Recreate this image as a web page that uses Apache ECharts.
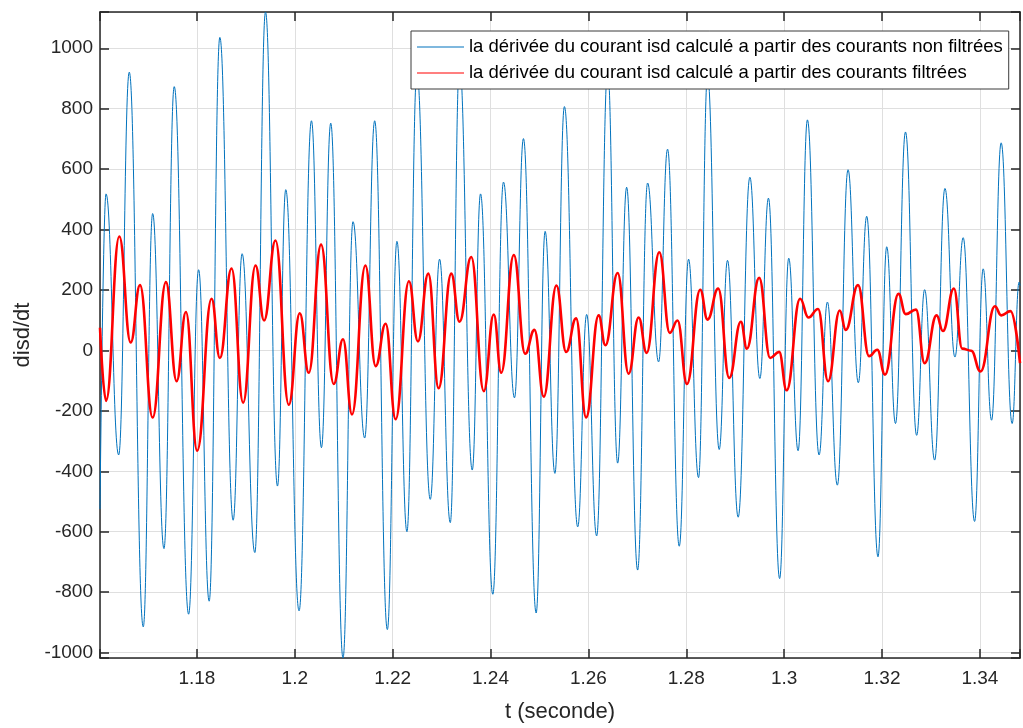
<!DOCTYPE html>
<html>
<head>
<meta charset="utf-8">
<script src="https://cdn.jsdelivr.net/npm/echarts@6/dist/echarts.min.js"></script>
<style>
html,body{margin:0;padding:0;background:#fff;}
#c{width:1023px;height:728px;}
</style>
</head>
<body>
<div id="c"></div>
<script>
// Blue series: derivative from unfiltered currents (extrema)
const blueT = [1.16020,1.16143,1.16402,1.16618,1.16904,1.17096,1.17327,1.17537,1.17831,1.18035,
1.18251,1.18469,1.18741,1.18924,1.19184,1.19402,1.19647,1.19816,1.20088,1.20341,
1.20545,1.20735,1.20986,1.21190,1.21429,1.21633,1.21892,1.22088,1.22292,1.22496,
1.22769,1.22959,1.23178,1.23367,1.23627,1.23796,1.24047,1.24265,1.24490,1.24673,
1.24933,1.25116,1.25316,1.25510,1.25782,1.25965,1.26169,1.26394,1.26598,1.26782,
1.27006,1.27210,1.27435,1.27618,1.27857,1.28047,1.28251,1.28435,1.28673,1.28843,
1.29061,1.29300,1.29504,1.29680,1.29908,1.30094,1.30286,1.30476,1.30714,1.30884,
1.31088,1.31306,1.31516,1.31688,1.31918,1.32096,1.32276,1.32480,1.32708,1.32871,
1.33076,1.33286,1.33490,1.33659,1.33892,1.34067,1.34239,1.34435,1.34659,1.34802,1.34820];
const blueV = [-525,518,-346,921,-915,453,-656,873,-873,267,
-830,1036,-562,320,-669,1120,-449,532,-862,760,
-322,752,-1018,426,-290,760,-924,361,-600,920,
-493,302,-570,950,-396,518,-807,557,-157,701,
-869,394,-407,807,-584,119,-614,930,-373,540,
-727,554,-38,666,-648,302,-421,910,-328,298,
-552,573,-93,504,-755,305,-332,763,-346,160,
-446,598,-107,444,-683,343,-242,723,-281,201,
-363,536,-22,373,-566,270,-231,687,-242,226,215];

// Red series: derivative from filtered currents
const redT = [1.16020,1.16143,1.16414,1.16647,1.16837,1.17096,1.17367,1.17586,1.17776,1.18006,
1.18300,1.18469,1.18708,1.18945,1.19198,1.19373,1.19606,1.19878,1.20102,1.20286,
1.20537,1.20796,1.20986,1.21169,1.21443,1.21653,1.21857,1.22061,1.22333,1.22516,
1.22729,1.22939,1.23198,1.23367,1.23606,1.23863,1.24067,1.24218,1.24476,1.24708,
1.24898,1.25088,1.25347,1.25545,1.25749,1.25953,1.26210,1.26347,1.26598,1.26822,
1.27027,1.27190,1.27449,1.27663,1.27822,1.28014,1.28286,1.28435,1.28653,1.28878,
1.29116,1.29239,1.29490,1.29714,1.29898,1.30051,1.30327,1.30496,1.30694,1.30898,
1.31137,1.31259,1.31510,1.31735,1.31904,1.32061,1.32337,1.32484,1.32694,1.32871,
1.33116,1.33245,1.33469,1.33639,1.33822,1.34014,1.34306,1.34435,1.34627,1.34820];
const redV = [75,-167,377,26,216,-222,226,-102,127,-332,
171,-25,271,-173,281,99,364,-180,123,-74,
350,-111,37,-212,281,-52,88,-228,229,30,
254,-125,254,95,309,-135,119,-74,316,-11,
68,-153,215,-5,106,-222,116,17,256,-77,
109,-8,325,58,99,-111,201,102,205,-91,
95,6,240,-25,-5,-132,171,109,137,-102,
132,68,216,-19,2,-80,187,120,135,-42,
116,64,205,6,-1,-70,146,116,130,-42];

const seriesNames = [
  'la dérivée du courant isd calculé a partir des courants non filtrées',
  'la dérivée du courant isd calculé a partir des courants filtrées'
];
const xLabel = 't (seconde)';
const yLabel = 'disd/dt';
const xRange = [1.1602, 1.3482];
const yRange = [-1018, 1120];

const pair = (t, v) => t.map((x, i) => [x, v[i]]);
const FONT = '"Liberation Sans", Arial, Helvetica, sans-serif';
const AX = '#262626';

const chart = echarts.init(document.getElementById('c'), null, {renderer: 'canvas'});
const fmtX = v => (Math.abs(v * 50 - Math.round(v * 50)) < 1e-6) ? String(parseFloat(v.toFixed(2))) : '';
const fmtY = v => (Math.abs(v / 200 - Math.round(v / 200)) < 1e-6) ? String(Math.round(v)) : '';

const tickStyle = {show: true, inside: true, length: 9, lineStyle: {color: AX, width: 1.5}};
const lineStyle = {show: true, onZero: false, lineStyle: {color: AX, width: 1.5}};

chart.setOption({
  animation: false,
  backgroundColor: '#fff',
  grid: {left: 100, right: 2, top: 12, bottom: 68, containLabel: false},
  legend: {
    show: true,
    orient: 'vertical',
    left: 411, top: 31,
    padding: [6, 6, 6, 6],
    itemGap: 6,
    itemWidth: 47, itemHeight: 20,
    backgroundColor: '#fff',
    borderColor: '#3a3a3a', borderWidth: 1,
    icon: 'path://M0,10 L47,10 L47,10.8 L0,10.8 Z',
    textStyle: {fontFamily: FONT, fontSize: 18.5, color: '#000', lineHeight: 20},
    data: [
      {name: seriesNames[0], itemStyle: {color: '#0072BD'}},
      {name: seriesNames[1], itemStyle: {color: '#FF0000'}}
    ]
  },
  xAxis: [{
    type: 'value', min: xRange[0], max: xRange[1], splitNumber: 10,
    position: 'bottom',
    name: xLabel, nameLocation: 'middle', nameGap: 43,
    nameTextStyle: {fontFamily: FONT, fontSize: 22, color: AX},
    axisLine: lineStyle, axisTick: tickStyle,
    axisLabel: {formatter: fmtX, fontFamily: FONT, fontSize: 19, color: AX, margin: 11},
    splitLine: {show: true, lineStyle: {color: '#dfdfdf', width: 1}}
  }, {
    type: 'value', min: xRange[0], max: xRange[1], splitNumber: 10,
    position: 'top',
    axisLine: lineStyle, axisTick: tickStyle,
    axisLabel: {show: false}, splitLine: {show: false}
  }],
  yAxis: [{
    type: 'value', min: yRange[0], max: yRange[1], splitNumber: 10,
    position: 'left',
    name: yLabel, nameLocation: 'middle', nameGap: 62, nameRotate: 90,
    nameTextStyle: {fontFamily: FONT, fontSize: 22, color: AX},
    axisLine: lineStyle, axisTick: tickStyle,
    axisLabel: {formatter: fmtY, fontFamily: FONT, fontSize: 19, color: AX, margin: 7},
    splitLine: {show: true, lineStyle: {color: '#dfdfdf', width: 1}}
  }, {
    type: 'value', min: yRange[0], max: yRange[1], splitNumber: 10,
    position: 'right',
    axisLine: lineStyle, axisTick: tickStyle,
    axisLabel: {show: false}, splitLine: {show: false}
  }],
  series: [{
    name: seriesNames[0], type: 'line',
    data: pair(blueT, blueV),
    showSymbol: false, symbol: 'none',
    smooth: 0.45, smoothMonotone: 'x',
    lineStyle: {color: '#0072BD', width: 1},
    itemStyle: {color: '#0072BD'},
    z: 2
  }, {
    name: seriesNames[1], type: 'line',
    data: pair(redT, redV),
    showSymbol: false, symbol: 'none',
    smooth: 0.45, smoothMonotone: 'x',
    lineStyle: {color: '#FF0000', width: 2.6},
    itemStyle: {color: '#FF0000'},
    z: 3
  }]
});
</script>
</body>
</html>
